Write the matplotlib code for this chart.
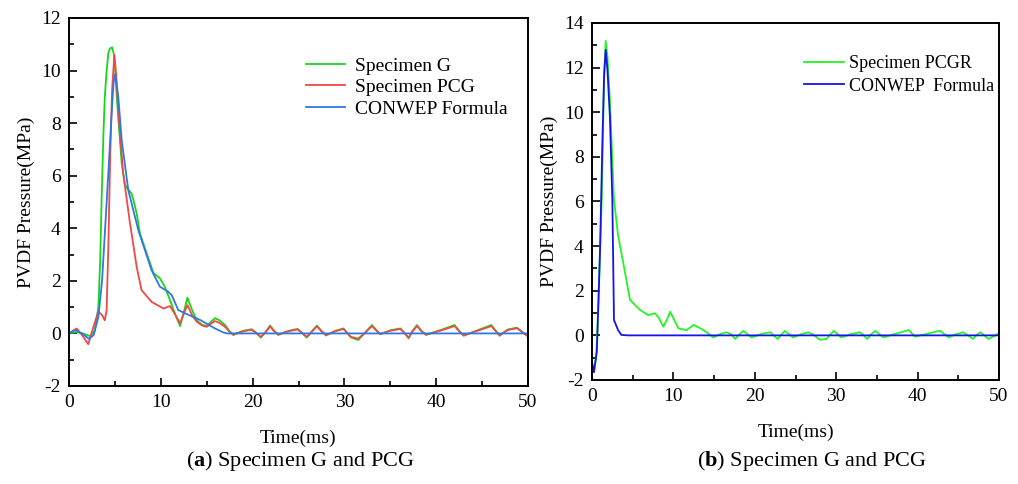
import matplotlib
matplotlib.use("Agg")
import matplotlib.pyplot as plt
from matplotlib.ticker import MultipleLocator

plt.rcParams['font.family'] = 'Liberation Serif'
plt.rcParams['mathtext.fontset'] = 'custom'
plt.rcParams['mathtext.rm'] = 'Liberation Serif'
plt.rcParams['mathtext.bf'] = 'Liberation Serif:bold'
plt.rcParams['axes.unicode_minus'] = False

# (a) specimen G / PCG / CONWEP
t_g = [0, 0.8, 1.5, 2.3, 2.8, 3.2, 3.4, 3.56, 3.75, 3.9, 4.1, 4.3, 4.5, 4.7, 4.9, 5.05, 5.2,
       5.5, 5.74, 6.1, 6.5, 6.8, 7.0, 7.37, 7.73, 8.5, 9.2, 9.9, 10.4, 11.0, 11.6, 12.1, 12.5,
       12.9, 13.4, 13.9, 14.5, 15.0, 15.5, 15.9, 16.4, 17.0, 17.5, 17.9, 18.4, 19.0, 19.9,
       20.4, 20.9, 21.4, 21.9, 22.3, 22.8, 23.5, 24.3, 24.9, 25.4, 25.9, 26.5, 27.0, 27.5,
       28.0, 29.0, 29.9, 30.7, 31.5, 32.3, 33.0, 33.5, 33.9, 35.0, 36.1, 36.6, 37.0, 37.4,
       37.9, 38.4, 38.9, 40.5, 42.0, 42.5, 43.0, 44.5, 46.0, 46.5, 46.9, 47.8, 48.8, 49.4, 50.0]
p_g = [0.0, 0.05, 0.0, -0.1, 0.1, 1.0, 2.8, 5.2, 7.6, 9.0, 10.0, 10.7, 10.85, 10.88, 10.6, 9.9, 9.0,
       7.6, 6.47, 5.64, 5.45, 5.33, 5.1, 4.57, 3.8, 3.0, 2.3, 2.1, 1.8, 1.27, 0.7, 0.28, 0.8,
       1.36, 0.9, 0.5, 0.33, 0.28, 0.45, 0.58, 0.5, 0.32, 0.08, -0.06, 0.02, 0.1, 0.16,
       0.02, -0.16, 0.05, 0.3, 0.12, -0.06, 0.05, 0.13, 0.17, 0.02, -0.16, 0.1, 0.3, 0.1,
       -0.08, 0.1, 0.19, -0.15, -0.25, 0.05, 0.32, 0.12, -0.03, 0.12, 0.19, 0.0, -0.19, 0.08,
       0.32, 0.1, -0.06, 0.13, 0.32, 0.1, -0.09, 0.12, 0.32, 0.1, -0.09, 0.15, 0.22, 0.05, -0.12]

t_pcg = [0, 0.84, 1.5, 2.1, 2.7, 3.2, 3.6, 3.9, 4.1, 4.3, 4.47, 4.7, 4.94, 5.15, 5.37, 5.9,
         6.64, 7.37, 7.9, 9.0, 10.3, 11.0, 11.6, 12.1, 12.5, 12.9, 13.4, 13.9, 14.5, 15.0,
         15.5, 15.9, 16.4, 17.0, 17.5, 17.9, 18.4, 19.0, 19.9, 20.4, 20.9, 21.4, 21.9, 22.3,
         22.8, 23.5, 24.3, 24.9, 25.4, 25.9, 26.5, 27.0, 27.5, 28.0, 29.0, 29.9, 30.7, 31.5,
         32.3, 33.0, 33.5, 33.9, 35.0, 36.1, 36.6, 37.0, 37.4, 37.9, 38.4, 38.9, 40.5, 42.0,
         42.5, 43.0, 44.5, 46.0, 46.5, 46.9, 47.8, 48.8, 49.4, 50.0]
p_pcg = [0.0, 0.19, -0.1, -0.41, 0.3, 0.83, 0.7, 0.5, 0.89, 3.5, 6.47, 9.3, 10.6, 9.8, 8.4, 6.1,
         4.2, 2.54, 1.65, 1.2, 0.95, 1.04, 0.7, 0.38, 0.75, 1.08, 0.7, 0.45, 0.3, 0.25,
         0.38, 0.47, 0.4, 0.25, 0.06, -0.04, 0.02, 0.08, 0.14, 0.01, -0.13, 0.04, 0.27, 0.1,
         -0.04, 0.04, 0.11, 0.15, 0.01, -0.13, 0.08, 0.27, 0.08, -0.06, 0.08, 0.17, -0.13, -0.2,
         0.04, 0.28, 0.1, -0.02, 0.1, 0.17, 0.0, -0.16, 0.07, 0.28, 0.08, -0.04, 0.11, 0.28,
         0.08, -0.07, 0.1, 0.28, 0.08, -0.07, 0.13, 0.2, 0.04, -0.1]

t_cw = [0, 0.65, 1.4, 2.2, 2.7, 3.2, 3.6, 3.92, 4.3, 4.65, 4.85, 5.0, 5.15, 5.37, 5.74, 6.46,
        7.55, 9.0, 9.9, 10.8, 11.2, 11.9, 12.8, 14.3, 15.9, 16.8, 17.2, 50.0]
p_cw = [0.0, 0.13, 0.0, -0.21, -0.05, 0.63, 2.0, 3.9, 6.2, 8.4, 9.5, 9.85, 9.6, 9.0, 7.35, 5.45,
        3.93, 2.4, 1.78, 1.59, 1.45, 0.89, 0.74, 0.51, 0.19, 0.04, 0.0, 0.0]

# (b) specimen PCGR / CONWEP
t_r = [0, 0.16, 0.5, 0.8, 1.19, 1.45, 1.68, 1.9, 2.2, 2.7, 3.2, 3.85, 4.67, 5.9, 6.9, 7.7,
       8.2, 8.76, 9.2, 9.6, 10.1, 10.6, 11.6, 12.5, 13.7, 14.9, 15.7, 16.5, 17.1, 17.6,
       18.1, 18.6, 19.1, 19.6, 21.0, 21.9, 22.3, 22.8, 23.3, 23.7, 24.2, 24.7, 25.7, 26.6,
       27.3, 28.0, 28.8, 29.3, 29.7, 30.2, 30.6, 31.8, 32.9, 33.4, 33.8, 34.3, 34.8, 35.3,
       35.8, 38.9, 39.7, 42.75, 43.3, 43.8, 44.7, 45.6, 46.2, 46.8, 47.2, 47.7, 48.2,
       48.7, 49.3, 50.0]
p_r = [-1.4, -1.63, -1.0, 1.5, 6.07, 11.0, 13.2, 12.5, 10.55, 6.07, 4.5, 3.23, 1.59, 1.14, 0.91, 0.99,
       0.8, 0.39, 0.7, 1.06, 0.7, 0.32, 0.23, 0.47, 0.24, -0.09, 0.05, 0.14, 0.05, -0.16,
       0.05, 0.2, 0.05, -0.09, 0.08, 0.14, 0.0, -0.16, 0.05, 0.2, 0.05, -0.09, 0.05, 0.14,
       0.0, -0.2, -0.16, 0.05, 0.2, 0.05, -0.09, 0.05, 0.14, 0.0, -0.16, 0.05, 0.2, 0.05,
       -0.09, 0.24, -0.06, 0.21, 0.05, -0.09, 0.05, 0.14, 0.0, -0.16, 0.0, 0.14, 0.0,
       -0.16, -0.05, 0.1]

t_cw2 = [0, 0.25, 0.6, 1.0, 1.3, 1.5, 1.68, 1.9, 2.2, 2.5, 2.7, 3.2, 3.6, 4.5, 50.0]
p_cw2 = [-1.2, -1.65, -0.7, 4.0, 9.0, 11.8, 12.8, 11.9, 9.8, 6.07, 0.69, 0.24, 0.02, 0.0, 0.0]

fig = plt.figure(figsize=(10.18, 4.84), dpi=100)
W, H = 1018, 484
ax1 = fig.add_axes([69 / W, (H - 386) / H, 459 / W, 368 / H])
ax2 = fig.add_axes([592 / W, (H - 380) / H, 407 / W, 357 / H])

ax1.plot(t_g, p_g, color='#1ad41a', lw=1.3, label='Specimen G')
ax1.plot(t_pcg, p_pcg, color='#f04848', lw=1.3, label='Specimen PCG')
ax1.plot(t_cw, p_cw, color='#2f78e0', lw=1.3, label='CONWEP Formula')
ax1.set_xlim(0, 50)
ax1.set_ylim(-2, 12)
ax1.yaxis.set_major_locator(MultipleLocator(2))
ax1.yaxis.set_minor_locator(MultipleLocator(1))

ax2.plot(t_r, p_r, color='#22f522', lw=1.3, label='Specimen PCGR')
ax2.plot(t_cw2, p_cw2, color='#1414e6', lw=1.3, label='CONWEP  Formula')
ax2.set_xlim(0, 50)
ax2.set_ylim(-2, 14)
ax2.yaxis.set_major_locator(MultipleLocator(2))
ax2.yaxis.set_minor_locator(MultipleLocator(1))

for ax in (ax1, ax2):
    ax.xaxis.set_major_locator(MultipleLocator(10))
    ax.xaxis.set_minor_locator(MultipleLocator(5))
    ax.tick_params(which='both', direction='in', top=False, right=False, labelsize=14, width=1.2)
    ax.tick_params(which='major', length=6, pad=6)
    ax.tick_params(which='minor', length=3.5)
    for s in ax.spines.values():
        s.set_linewidth(1.4)
    ax.set_ylabel('PVDF Pressure(MPa)', fontsize=14, labelpad=4)
    ax.set_xlabel('Time(ms)', fontsize=14, labelpad=13)

ax1.legend(loc='upper left', bbox_to_anchor=(0.5, 0.915), frameon=False, fontsize=14,
           handlelength=2.0, handletextpad=0.5, labelspacing=0.2, borderaxespad=0)
ax2.legend(loc='upper right', bbox_to_anchor=(1.005, 0.93), frameon=False, fontsize=13,
           handlelength=2.2, handletextpad=0.25, labelspacing=0.3, borderaxespad=0)

fig.text(300 / W, 1 - 461 / H, '($\\mathbf{a}$) Specimen G and PCG', ha='center', va='center', fontsize=16)
fig.text(812 / W, 1 - 461 / H, '($\\mathbf{b}$) Specimen G and PCG', ha='center', va='center', fontsize=16)

fig.savefig('out.png', dpi=100)
